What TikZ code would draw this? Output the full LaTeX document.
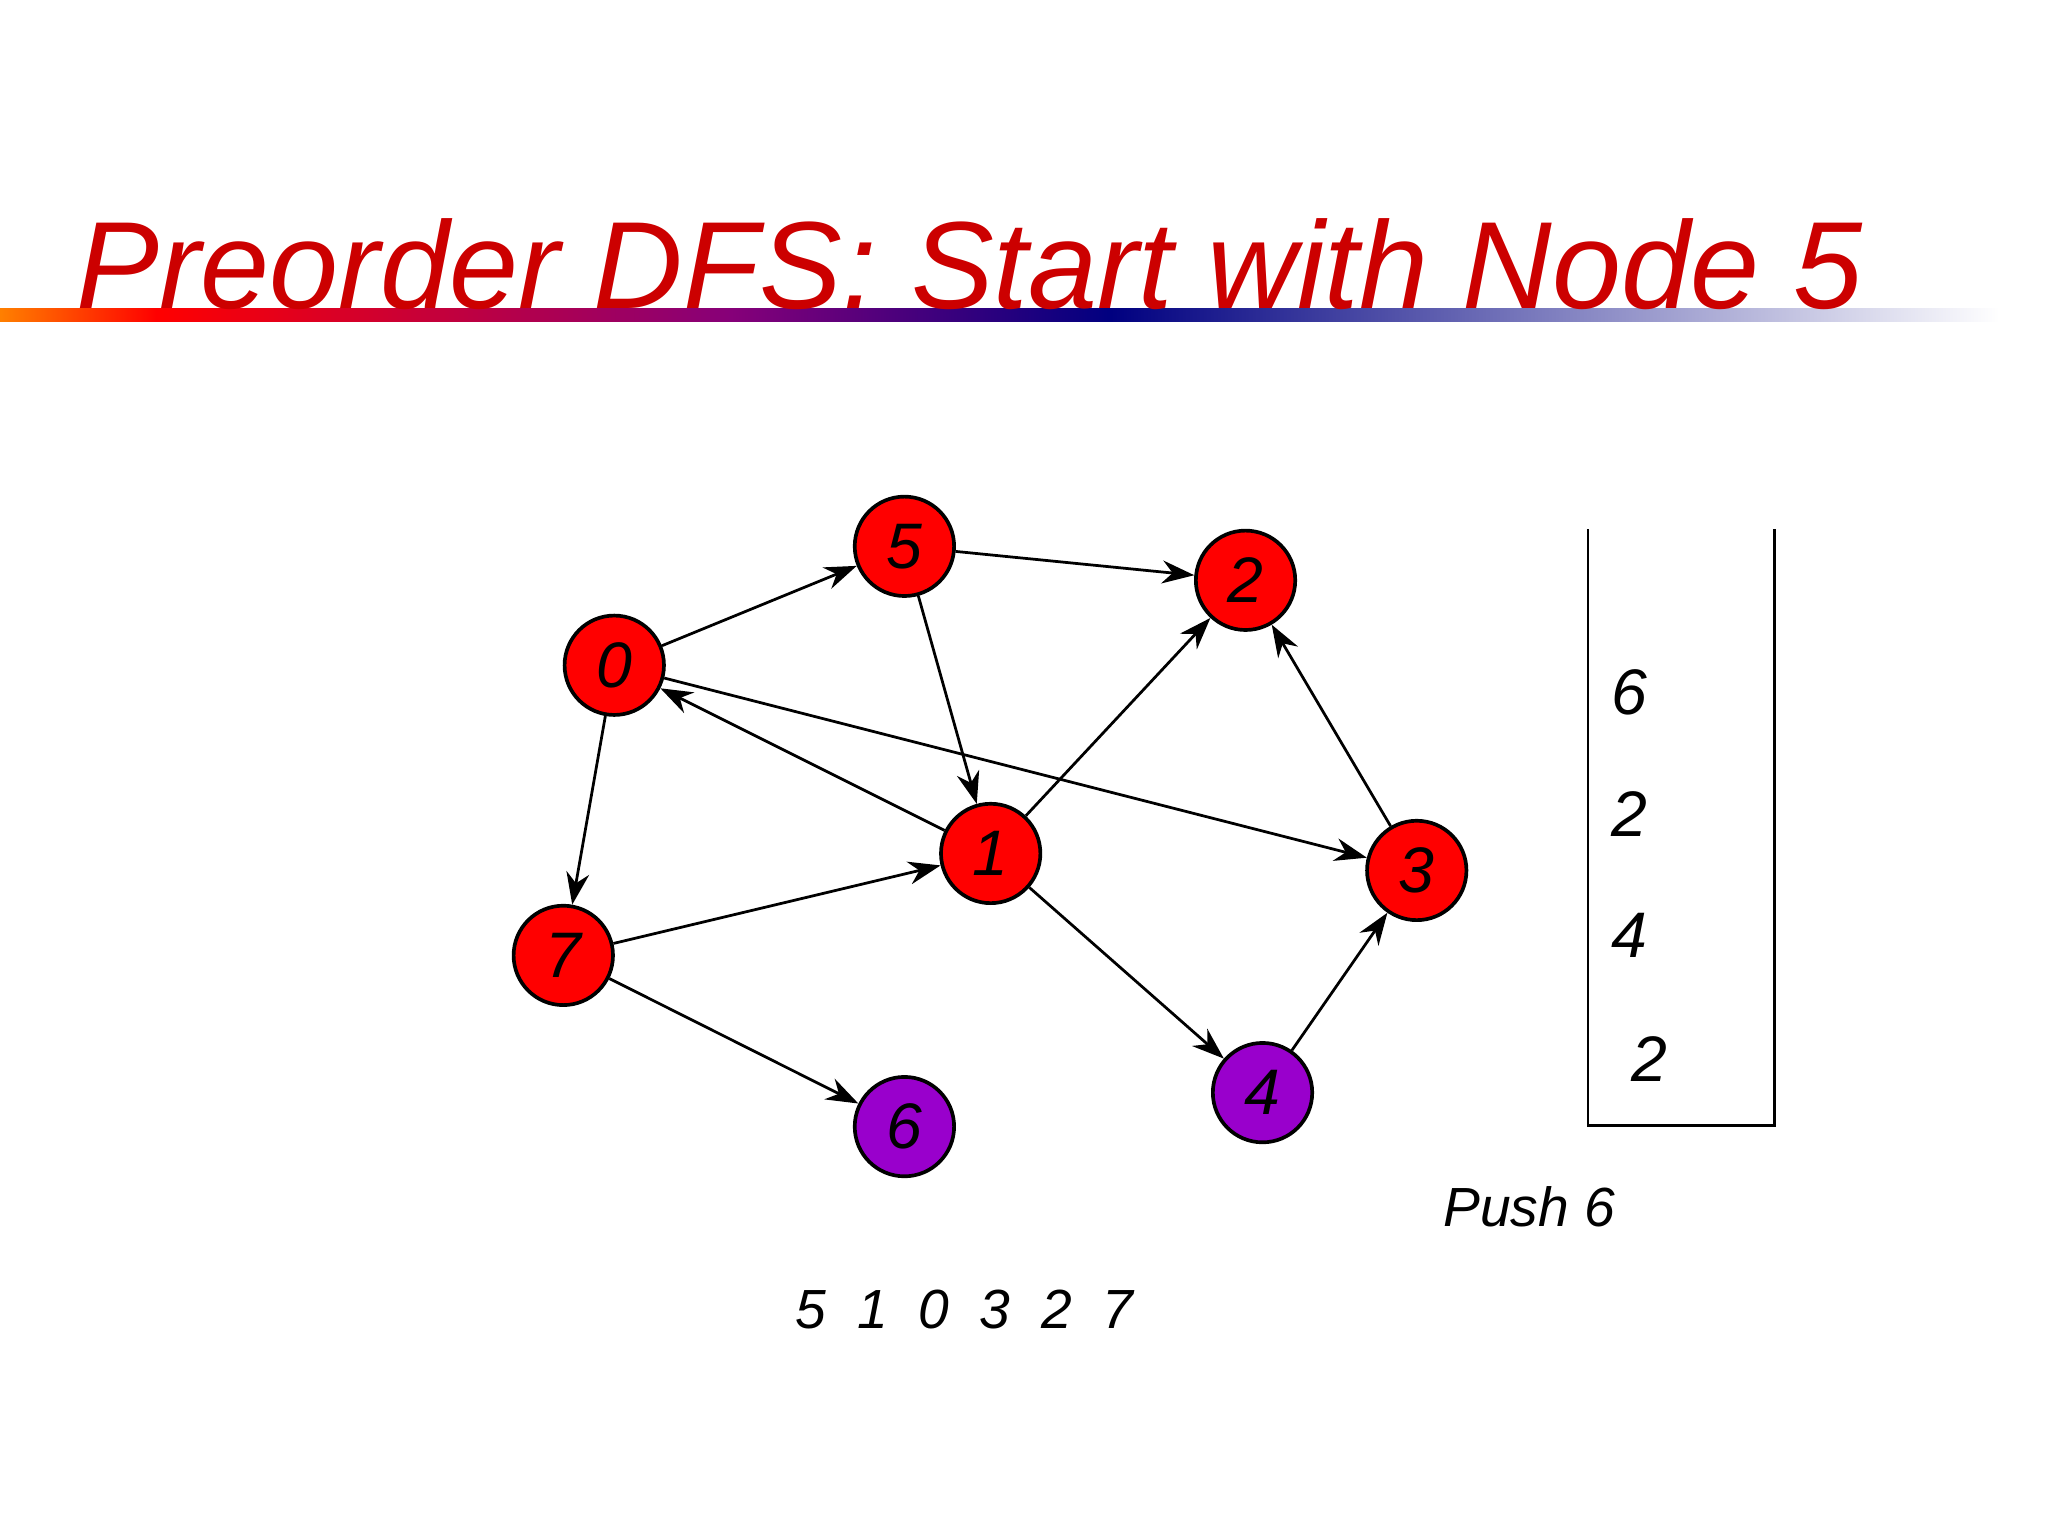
\documentclass[tikz,border=0pt]{standalone}
\usepackage{fontspec}
\setmainfont{Liberation Sans}
\usetikzlibrary{arrows.meta}
\definecolor{tred}{RGB}{204,0,0}
\definecolor{nred}{RGB}{255,0,0}
\definecolor{npur}{RGB}{153,0,204}
\begin{document}
\begin{tikzpicture}[x=0.01cm,y=-0.01cm,
  vtx/.style={circle,draw=black,line width=0.8pt,minimum size=0.76cm,inner sep=0pt,font=\fontsize{14}{16}\selectfont\itshape},
  red/.style={vtx,fill=nred},
  pur/.style={vtx,fill=npur},
  edge/.style={-{Stealth[length=7pt,width=5pt]},line width=0.6pt},
  lbl/.style={font=\fontsize{14}{16}\selectfont\itshape}]
\useasboundingbox (0,0) rectangle (1567,1175);
\fill[white] (0,0) rectangle (1567,1175);
% gradient rule
\shade[left color=orange,right color=nred] (0,236) rectangle (120,246);
\shade[left color=nred,right color=purple!70!blue] (120,236) rectangle (560,246);
\shade[left color=purple!70!blue,right color={rgb,255:red,0;green,0;blue,128}] (560,236) rectangle (850,246);
\shade[left color={rgb,255:red,0;green,0;blue,128},right color=white] (850,236) rectangle (1530,246);
\node[anchor=base west,text=tred,font=\fontsize{27}{32}\selectfont\itshape,inner sep=0pt] (title) at (58,236) {Preorder DFS: Start with Node 5};
% nodes
\node[red] (n5) at (692,418) {5};
\node[red] (n2) at (953,444) {2};
\node[red] (n0) at (470,509) {0};
\node[red] (n1) at (758,653) {1};
\node[red] (n3) at (1084,666) {3};
\node[red] (n7) at (431,731) {7};
\node[pur] (n4) at (966,836) {4};
\node[pur] (n6) at (692,862) {6};
% edges
\draw[edge] (n0) -- (n5);
\draw[edge] (n5) -- (n2);
\draw[edge] (n5) -- (n1);
\draw[edge] (n0) -- (n3);
\draw[edge] (n1) -- (n0);
\draw[edge] (n1) -- (n2);
\draw[edge] (n3) -- (n2);
\draw[edge] (n7) -- (n1);
\draw[edge] (n0) -- (n7);
\draw[edge] (n1) -- (n4);
\draw[edge] (n4) -- (n3);
\draw[edge] (n7) -- (n6);
% stack
\coordinate (s1) at (1215,405);
\coordinate (s2) at (1215,861);
\coordinate (s3) at (1358,861);
\coordinate (s4) at (1358,405);
\draw[line width=0.6pt] (s1) -- (s2) -- (s3) -- (s4);
\node[lbl] (k1) at (1247,530) {6};
\node[lbl] (k2) at (1247,623) {2};
\node[lbl] (k3) at (1247,716) {4};
\node[lbl] (k4) at (1262,810) {2};
\node[font=\fontsize{12}{14}\selectfont\itshape] (push) at (1170,923) {Push 6};
\node[font=\fontsize{12}{14}\selectfont\itshape] (seq) at (738,1002) {5\ \ 1\ \ 0\ \ 3\ \ 2\ \ 7};
\end{tikzpicture}
\end{document}
